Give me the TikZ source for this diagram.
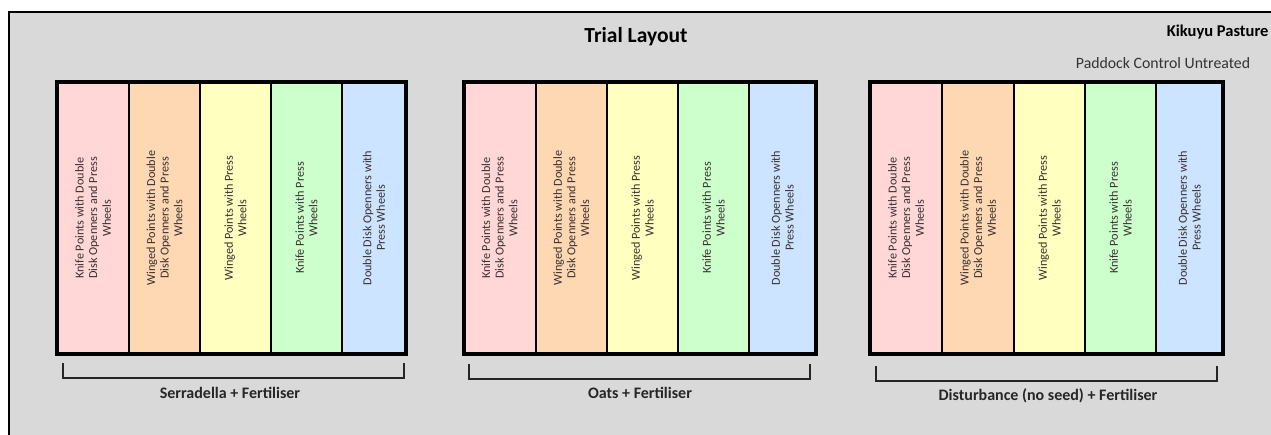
\documentclass[tikz,border=0pt]{standalone}
\usepackage{fontspec}
\setmainfont{Carlito}
\definecolor{bg}{HTML}{D9D9D9}
\definecolor{cpink}{HTML}{FFD7D7}
\definecolor{cpeach}{HTML}{FDD8B2}
\definecolor{cyellow}{HTML}{FFFFBF}
\definecolor{cgreen}{HTML}{CCFFCC}
\definecolor{cblue}{HTML}{CCE4FF}
\definecolor{stxt}{HTML}{3A3030}
\tikzset{
  stripbox/.style={draw=black, line width=2pt, rotate=90, minimum width=272pt,
    inner sep=0pt, align=center, text=stxt, font=\fontsize{12.2}{13.6}\selectfont},
  grpframe/.style={draw=black, line width=4pt},
  brk/.style={draw=black!85, line width=2pt},
  grplabel/.style={font=\fontsize{16}{18}\selectfont\bfseries, text=black!85},
}
\begin{document}
\begin{tikzpicture}[x=1pt,y=-1pt]
\useasboundingbox (0,0) rectangle (1271,434);
\fill[white] (0,0) rectangle (1271,434);
\begin{scope}
\clip (0,0) rectangle (1271,434);
\fill[bg] (9,12) rectangle (1280,440);
\draw[line width=2pt] (9,440) -- (9,12) -- (1280,12);
\node[font=\fontsize{16.5}{18}\selectfont\bfseries, anchor=east] (kik) at (1272,32) {Kikuyu Pasture};
\end{scope}

\node[font=\fontsize{21.5}{24}\selectfont\bfseries] (title) at (636,37) {Trial Layout};
\node[font=\fontsize{15.8}{18}\selectfont, text=black!80] (pad) at (1163,63) {Paddock Control Untreated};

\foreach \g/\xa/\xb/\xc/\xd/\xe/\xf in {a/57/129/200/271/342/406, b/463.5/535.5/607/678/749/816, c/870/942/1014/1085/1156/1223} {
  \node[stripbox, fill=cpink,   minimum height=\xb-\xa] (\g1) at ({(\xa+\xb)/2},218) {Knife Points with Double\\Disk Openners and Press\\Wheels};
  \node[stripbox, fill=cpeach,  minimum height=\xc-\xb] (\g2) at ({(\xb+\xc)/2},218) {Winged Points with Double\\Disk Openners and Press\\Wheels};
  \node[stripbox, fill=cyellow, minimum height=\xd-\xc] (\g3) at ({(\xc+\xd)/2},218) {Winged Points with Press\\Wheels};
  \node[stripbox, fill=cgreen,  minimum height=\xe-\xd] (\g4) at ({(\xd+\xe)/2},218) {Knife Points with Press\\Wheels};
  \node[stripbox, fill=cblue,   minimum height=\xf-\xe] (\g5) at ({(\xe+\xf)/2},218) {Double Disk Openners with\\Press Wheels};
  \draw[grpframe] (\xa,82) rectangle (\xf,354);
}

\coordinate (a0) at (63,363); \coordinate (a9) at (404,363);
\draw[brk] (a0) -- ++(0,15) -| (a9);
\node[grplabel] (la) at (230,393) {Serradella + Fertiliser};

\coordinate (b0) at (469,364); \coordinate (b9) at (810,364);
\draw[brk] (b0) -- ++(0,15) -| (b9);
\node[grplabel] (lb) at (640,393) {Oats + Fertiliser};

\coordinate (c0) at (876,366); \coordinate (c9) at (1217,366);
\draw[brk] (c0) -- ++(0,15) -| (c9);
\node[grplabel] (lc) at (1048,396) {Disturbance (no seed) + Fertiliser};
\end{tikzpicture}
\end{document}
